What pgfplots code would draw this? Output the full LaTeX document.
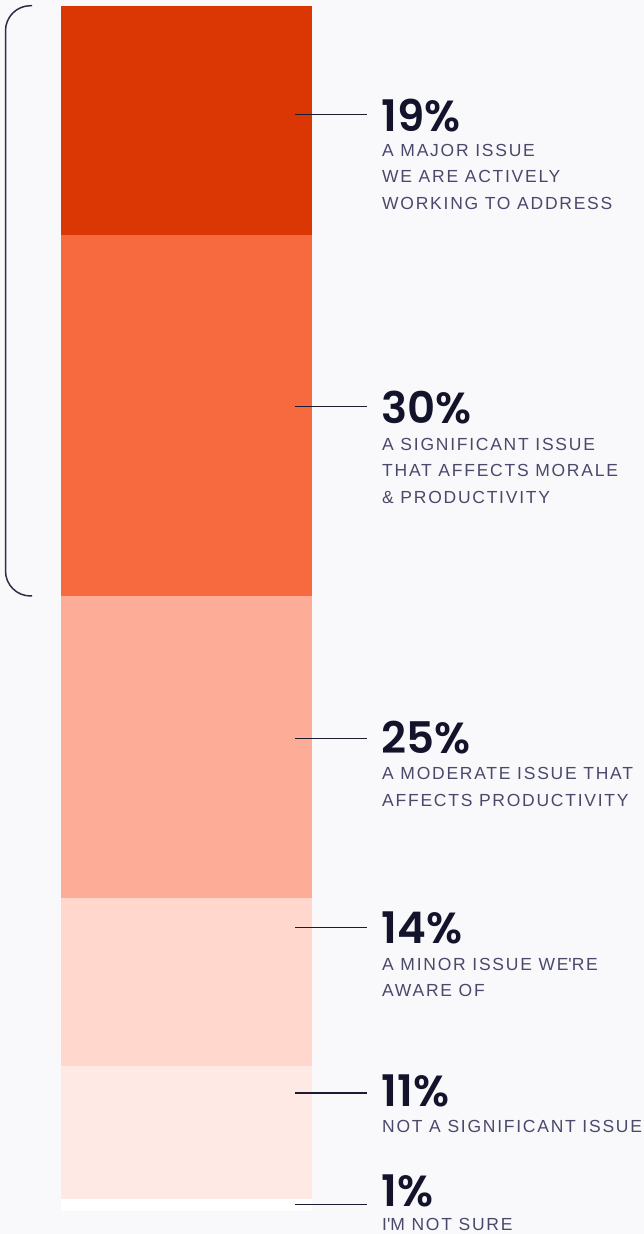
\documentclass[border=0pt]{standalone}
\usepackage{pgfplots}
\pgfplotsset{compat=1.18}
\usepackage{fontspec}
\setmainfont{Liberation Sans}
\newfontfamily\pctfont{Poppins SemiBold}
\newfontfamily\descfont{Liberation Sans}[LetterSpace=10]
\definecolor{bg}{HTML}{F9F9FC}
\definecolor{c19}{HTML}{DB3705}
\definecolor{c30}{HTML}{F7693F}
\definecolor{c25}{HTML}{FDAC97}
\definecolor{c14}{HTML}{FFD7CD}
\definecolor{c11}{HTML}{FFE9E4}
\definecolor{c01}{HTML}{FFFFFF}
\definecolor{pcttext}{HTML}{13142C}
\definecolor{desctext}{HTML}{4A496C}
\definecolor{linecol}{HTML}{1C1C30}
\definecolor{brack}{HTML}{2E2E48}
\newcommand\Y[1]{\fpeval{1234-(#1)}}
\newcommand\pct[2]{\node[anchor=base west,inner sep=0,text depth=0pt,text height=30pt,text=pcttext,font=\pctfont\fontsize{43.5}{43.5}\selectfont] at (381.5,\Y{#1}) {#2};}
\newcommand\desc[2]{\node[anchor=base west,inner sep=0,text height=12pt,text depth=0pt,text=desctext,font=\descfont\fontsize{17.5}{17.5}\selectfont] at (382,\Y{#1}) {#2};}
\newcommand\lead[1]{\draw[linecol,line width=1.3pt] (295,\Y{#1}) -- (367,\Y{#1});}
\begin{document}
\begin{tikzpicture}[x=1pt,y=1pt]
\fill[bg] (0,0) rectangle (644,1234);
\useasboundingbox (0,0) rectangle (644,1234);
\begin{axis}[
  at={(61pt,23pt)}, anchor=south west,
  width=251pt, height=1205pt, scale only axis,
  hide axis, xmin=-0.5, xmax=0.5, ymin=0, ymax=100,
  ybar stacked, bar width=251pt,
  clip=false,
]
\addplot[fill=c01,draw=none] coordinates {(0,1)};
\addplot[fill=c11,draw=none] coordinates {(0,11)};
\addplot[fill=c14,draw=none] coordinates {(0,14)};
\addplot[fill=c25,draw=none] coordinates {(0,25)};
\addplot[fill=c30,draw=none] coordinates {(0,30)};
\addplot[fill=c19,draw=none] coordinates {(0,19)};
\end{axis}
% bracket
\draw[brack,line width=1.5pt,rounded corners=25pt] (32,\Y{5.7}) -- (5.5,\Y{5.7}) -- (5.5,\Y{596}) -- (32,\Y{596});
% labels
\lead{114.7}
\pct{131.7}{19\%}
\desc{156.7}{A MAJOR ISSUE}
\desc{183}{WE ARE ACTIVELY}
\desc{209.3}{WORKING TO ADDRESS}
\lead{406.7}
\pct{424}{30\%}
\desc{450.7}{A SIGNIFICANT ISSUE}
\desc{477}{THAT AFFECTS MORALE}
\desc{503.3}{\& PRODUCTIVITY}
\lead{738.3}
\pct{754}{25\%}
\desc{780}{A MODERATE ISSUE THAT}
\desc{806.3}{AFFECTS PRODUCTIVITY}
\lead{927.7}
\pct{944}{14\%}
\desc{970.7}{A MINOR ISSUE WE\textquotesingle RE}
\desc{997}{AWARE OF}
\lead{1093}
\pct{1106.7}{11\%}
\desc{1132.7}{NOT A SIGNIFICANT ISSUE}
\lead{1204.7}
\pct{1206.7}{1\%}
\desc{1231}{I\textquotesingle M NOT SURE}
\end{tikzpicture}
\end{document}
